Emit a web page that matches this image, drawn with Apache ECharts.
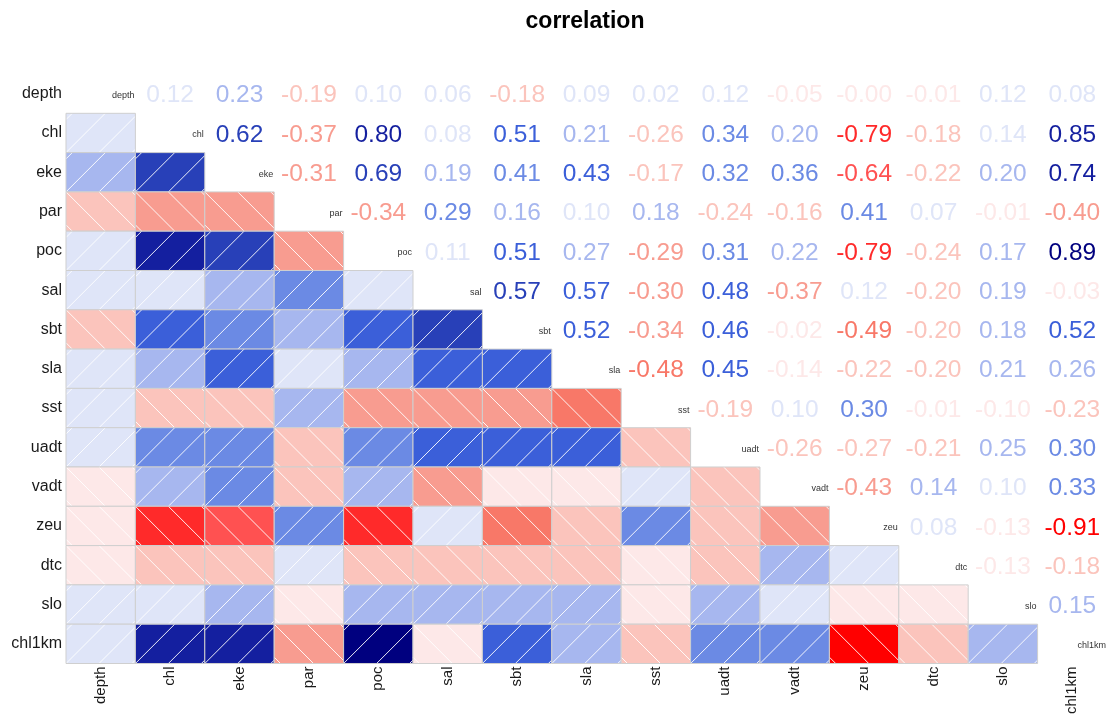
<!DOCTYPE html>
<html>
<head>
<meta charset="utf-8">
<script src="https://cdn.jsdelivr.net/npm/echarts@6/dist/echarts.min.js"></script>
<style>
  html, body { margin: 0; padding: 0; background: #ffffff; }
  #chart { width: 1109px; height: 717px; }
</style>
</head>
<body>
<div id="chart"></div>
<script>
// Variables, in matrix order
const vars = ['depth', 'chl', 'eke', 'par', 'poc', 'sal', 'sbt', 'sla', 'sst', 'uadt', 'vadt', 'zeu', 'dtc', 'slo', 'chl1km'];

// Correlation of each variable with every variable listed after it
const depth = [0.12, 0.23, -0.19, 0.10, 0.06, -0.18, 0.09, 0.02, 0.12, -0.05, -0.004, -0.01, 0.12, 0.08];
const chl   = [0.62, -0.37, 0.80, 0.08, 0.51, 0.21, -0.26, 0.34, 0.20, -0.79, -0.18, 0.14, 0.85];
const eke   = [-0.31, 0.69, 0.19, 0.41, 0.43, -0.17, 0.32, 0.36, -0.64, -0.22, 0.20, 0.74];
const par   = [-0.34, 0.29, 0.16, 0.10, 0.18, -0.24, -0.16, 0.41, 0.07, -0.01, -0.40];
const poc   = [0.11, 0.51, 0.27, -0.29, 0.31, 0.22, -0.79, -0.24, 0.17, 0.89];
const sal   = [0.572, 0.568, -0.30, 0.48, -0.37, 0.12, -0.20, 0.19, -0.03];
const sbt   = [0.52, -0.34, 0.46, -0.02, -0.49, -0.20, 0.18, 0.52];
const sla   = [-0.48, 0.45, -0.14, -0.22, -0.20, 0.21, 0.26];
const sst   = [-0.19, 0.10, 0.30, -0.01, -0.10, -0.23];
const uadt  = [-0.26, -0.27, -0.21, 0.25, 0.30];
const vadt  = [-0.427, 0.144, 0.10, 0.33];
const zeu   = [0.08, -0.13, -0.91];
const dtc   = [-0.13, -0.18];
const slo   = [0.15];

const upperRows = [depth, chl, eke, par, poc, sal, sbt, sla, sst, uadt, vadt, zeu, dtc, slo];

// 14-step diverging palette, red (-1) -> white -> navy (+1)
const palette = ['#ff0000', '#ff2a2a', '#ff5151', '#f87868', '#f89c90', '#fbc4bc', '#fde8e8',
                 '#dfe5f8', '#a7b7ef', '#6b8ae4', '#3b5fd9', '#2840b8', '#141f9f', '#00007f'];
function colorOf(r) {
  let k = Math.floor((r + 1) / (2 / palette.length));
  k = Math.max(0, Math.min(palette.length - 1, k));
  return palette[k];
}

// Build cell lists: shaded cells below the diagonal, numbers above it
const lowerCells = [];
const upperCells = [];
upperRows.forEach(function (row, i) {
  row.forEach(function (r, j) {
    const col = i + 1 + j;
    upperCells.push([col, i, r]);   // row i, column col
    lowerCells.push([i, col, r]);   // mirrored: row col, column i
  });
});
const diagCells = vars.map(function (v, i) { return [i, i]; });

const FONT = '"Liberation Sans", Arial, sans-serif';
const HATCH = 33;

function renderShade(params, api) {
  const xi = api.value(0), yi = api.value(1), r = api.value(2);
  const c = api.coord([xi, yi]);
  const s = api.size([1, 1]);
  const w = s[0], h = s[1];
  const x0 = c[0] - w / 2, y0 = c[1] - h / 2;
  const children = [{
    type: 'rect',
    shape: { x: x0, y: y0, width: w, height: h },
    style: { fill: colorOf(r) }
  }];
  for (let k = -1; k <= 2; k++) {
    const off = k * HATCH;
    const t0 = Math.max(-off, 0), t1 = Math.min(w - off, h);
    if (t1 <= t0) continue;
    let shape;
    if (r >= 0) {
      shape = { x1: x0 + off + t0, y1: y0 + h - t0, x2: x0 + off + t1, y2: y0 + h - t1 };
    } else {
      shape = { x1: x0 + off + t0, y1: y0 + t0, x2: x0 + off + t1, y2: y0 + t1 };
    }
    children.push({ type: 'line', shape: shape, style: { stroke: '#ffffff', lineWidth: 1, opacity: 0.9 } });
  }
  children.push({
    type: 'rect',
    shape: { x: x0, y: y0, width: w, height: h },
    style: { fill: null, stroke: '#cfcfcf', lineWidth: 1 }
  });
  return { type: 'group', children: children };
}

function renderNumber(params, api) {
  const r = api.value(2);
  const c = api.coord([api.value(0), api.value(1)]);
  return {
    type: 'text',
    x: c[0], y: c[1] + 2,
    style: {
      text: r.toFixed(2), fill: colorOf(r),
      fontSize: 24.5, fontFamily: FONT,
      align: 'center', verticalAlign: 'middle'
    }
  };
}

function renderDiag(params, api) {
  const i = api.value(0);
  const c = api.coord([i, i]);
  const s = api.size([1, 1]);
  return {
    type: 'text',
    x: c[0] + s[0] / 2 - 1, y: c[1] + 2,
    style: {
      text: vars[i], fill: '#333333',
      fontSize: 9, fontFamily: FONT,
      align: 'right', verticalAlign: 'middle'
    }
  };
}

const chart = echarts.init(document.getElementById('chart'), null, { renderer: 'canvas' });
chart.setOption({
  animation: false,
  backgroundColor: '#ffffff',
  title: {
    text: 'correlation',
    left: 580, top: 5, textAlign: 'center',
    textStyle: { fontSize: 23, fontWeight: 'bold', fontFamily: FONT, color: '#000000' }
  },
  grid: { left: 66, right: 2, top: 74, bottom: 50 },
  xAxis: {
    type: 'category', data: vars, position: 'bottom',
    axisLine: { show: false }, axisTick: { show: false }, splitLine: { show: false },
    axisLabel: { rotate: 90, margin: 3, fontSize: 15, fontFamily: FONT, color: '#1a1a1a', interval: 0 }
  },
  yAxis: {
    type: 'category', data: vars, inverse: true,
    axisLine: { show: false }, axisTick: { show: false }, splitLine: { show: false },
    axisLabel: { margin: 4, fontSize: 16, fontFamily: FONT, color: '#1a1a1a', interval: 0, padding: [0, 0, 5, 0] }
  },
  series: [
    { type: 'custom', data: lowerCells, encode: { x: 0, y: 1 }, renderItem: renderShade, silent: true },
    { type: 'custom', data: upperCells, encode: { x: 0, y: 1 }, renderItem: renderNumber, silent: true },
    { type: 'custom', data: diagCells, encode: { x: 0, y: 1 }, renderItem: renderDiag, silent: true }
  ]
});
</script>
</body>
</html>
